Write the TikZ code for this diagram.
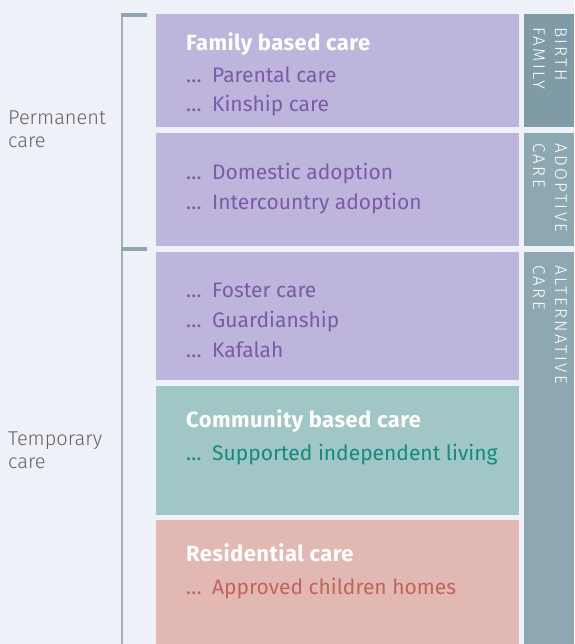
\documentclass[tikz,border=0pt]{standalone}
\usepackage{fontspec}
\setmainfont{Fira Sans}
\newfontfamily\headsans{Fira Sans}[LetterSpace=2]
\newfontfamily\lightsans{Fira Sans Light}
\newfontfamily\stripsans{Fira Sans Light}[LetterSpace=14]
\newcommand\itemdots{…\hspace{0.5em}}
\definecolor{pagebg}{HTML}{EEF1F8}
\definecolor{lilac}{HTML}{BDB5DB}
\definecolor{mint}{HTML}{A0C6C5}
\definecolor{blush}{HTML}{E2B9B2}
\definecolor{slatedark}{HTML}{7F9CA6}
\definecolor{slate}{HTML}{8EA8B2}
\definecolor{brace}{HTML}{8FA4AE}
\definecolor{bracelight}{HTML}{9DB2BC}
\definecolor{violettext}{HTML}{7B5AA6}
\definecolor{tealtext}{HTML}{138A80}
\definecolor{rosetext}{HTML}{C0645C}
\definecolor{greytext}{HTML}{636363}
\tikzset{
  panel/.style={anchor=north west, inner sep=0pt, outer sep=0pt, draw=none},
  heading/.style={anchor=base west, inner sep=0pt, text=white, font=\headsans\fontsize{22}{26}\selectfont\bfseries},
  item/.style={anchor=base west, inner sep=0pt, font=\fontsize{21}{25}\selectfont},
  sidelabel/.style={anchor=base west, inner sep=0pt, text=white, rotate=-90, font=\stripsans\fontsize{17}{20}\selectfont},
  grouplabel/.style={anchor=base west, inner sep=0pt, text=greytext, font=\lightsans\fontsize{20}{24}\selectfont},
  bracketline/.style={draw=bracelight, line width=2pt},
  brackettick/.style={draw=brace, line width=3.2pt}
}
\begin{document}
\begin{tikzpicture}[x=1pt,y=-1pt]
\useasboundingbox (0,0) rectangle (574,644);
\fill[pagebg] (0,0) rectangle (574,644);

% coloured care panels
\node[panel, fill=lilac, minimum width=363pt, minimum height=113pt] (family) at (156,14) {};
\node[panel, fill=lilac, minimum width=363pt, minimum height=113pt] (adopt) at (156,133) {};
\node[panel, fill=lilac, minimum width=363pt, minimum height=128pt] (foster) at (156,252) {};
\node[panel, fill=mint, minimum width=363pt, minimum height=129pt] (community) at (156,386) {};
\node[panel, fill=blush, minimum width=363pt, minimum height=124pt] (residential) at (156,520) {};

% right-hand category strips
\node[panel, fill=slatedark, minimum width=50pt, minimum height=113pt] (birthstrip) at (524,14) {};
\node[panel, fill=slate, minimum width=50pt, minimum height=113pt] (adoptstrip) at (524,133) {};
\node[panel, fill=slate, minimum width=50pt, minimum height=392pt] (altstrip) at (524,252) {};

\node[sidelabel] (birthA) at (555,27) {BIRTH};
\node[sidelabel] (birthB) at (533,27) {FAMILY};
\node[sidelabel] (adoptA) at (555,143) {ADOPTIVE};
\node[sidelabel] (adoptB) at (533,143) {CARE};
\node[sidelabel] (altA) at (555,265) {ALTERNATIVE};
\node[sidelabel] (altB) at (533,265) {CARE};

% panel texts
\node[heading] (familyhead) at (186,51) {Family based care};
\node[item, text=violettext] (parental) at (186,83) {\itemdots Parental care};
\node[item, text=violettext] (kinship) at (186,112) {\itemdots Kinship care};

\node[item, text=violettext] (domestic) at (186,180) {\itemdots Domestic adoption};
\node[item, text=violettext] (intercountry) at (186,210) {\itemdots Intercountry adoption};

\node[item, text=violettext] (fostercare) at (186,297) {\itemdots Foster care};
\node[item, text=violettext] (guardian) at (186,327) {\itemdots Guardianship};
\node[item, text=violettext] (kafalah) at (186,357) {\itemdots Kafalah};

\node[heading] (communityhead) at (186,427) {Community based care};
\node[item, text=tealtext] (supported) at (186,460) {\itemdots Supported independent living};

\node[heading] (residentialhead) at (186,561) {Residential care};
\node[item, text=rosetext] (approved) at (186,594) {\itemdots Approved children homes};

% permanent / temporary bracket
\coordinate (btop) at (122,15);
\coordinate (bmid) at (122,249);
\coordinate (bbot) at (122,644);
\coordinate (ttop) at (147,15);
\coordinate (tmid) at (147,249);
\draw[bracketline] (btop) -- (bbot);
\draw[brackettick] ([xshift=-1pt]btop) -- (ttop);
\draw[brackettick] ([xshift=-1pt]bmid) -- (tmid);

\node[grouplabel] (perm1) at (8,125) {Permanent};
\node[grouplabel] (perm2) at (8,148) {care};
\node[grouplabel] (temp1) at (8,445) {Temporary};
\node[grouplabel] (temp2) at (8,468) {care};
\end{tikzpicture}
\end{document}
